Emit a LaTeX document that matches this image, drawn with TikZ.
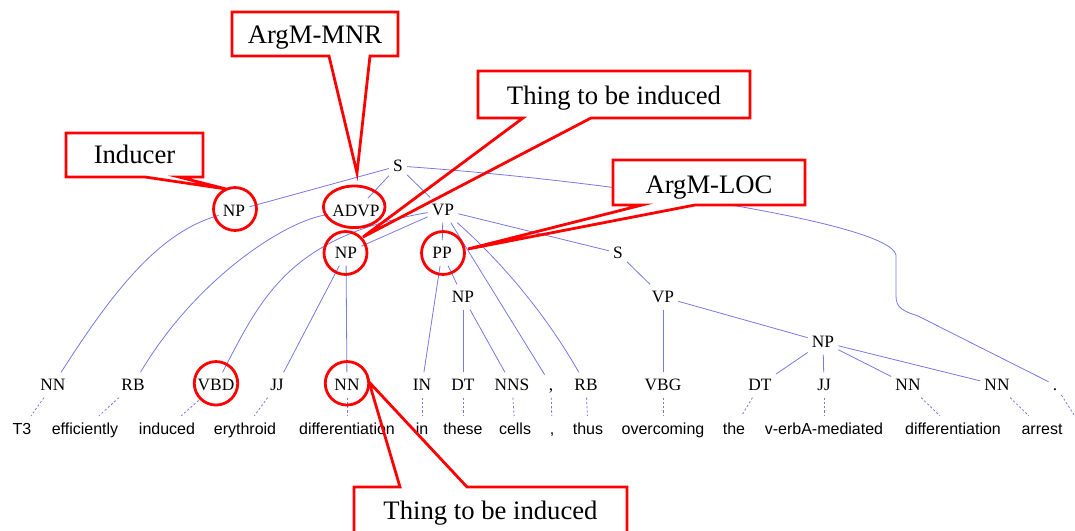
\documentclass[tikz,border=0pt]{standalone}
\usepackage{fontspec}
\setmainfont{Liberation Serif}
\newfontfamily\sansfam{Liberation Sans}
\newcommand\mytagfont{\rmfamily\fontsize{13}{15}\selectfont}
\newcommand\mywordfont{\sansfam\fontsize{12}{14}\selectfont}
\newcommand\mycallfont{\rmfamily\fontsize{20}{24}\selectfont}
\definecolor{treeblue}{RGB}{120,120,230}
\begin{document}
\begin{tikzpicture}[x=0.75pt,y=-0.75pt,
  tagn/.style={font=\mytagfont, text height=8.6pt, text depth=0pt, inner ysep=5pt, inner xsep=3pt},
  wordn/.style={font=\mywordfont, text height=8.6pt, text depth=0pt, inner ysep=5pt, inner xsep=2pt},
  brline/.style={draw=treeblue, line width=0.6pt},
  leafline/.style={draw=treeblue, line width=0.6pt, dash pattern=on 1.6pt off 1.6pt},
  redring/.style={draw=red, line width=2.1pt},
  callshape/.style={draw=red, line width=2.1pt, line join=miter},
  calltext/.style={font=\mycallfont, text height=13.2pt, text depth=0pt, inner sep=0pt},
]
\useasboundingbox (0,0) rectangle (1075,531);
\clip (0,0) rectangle (1075,531);

% phrase nodes
\node[tagn] (S)   at (398,166) {S};
\node[tagn] (npA) at (234,211) {NP};
\node[tagn] (advp) at (356,211) {ADVP};
\node[tagn] (vpA) at (443,210) {VP};
\node[tagn] (npB) at (346,253) {NP};
\node[tagn] (pp)  at (442,253) {PP};
\node[tagn] (npC) at (463,297) {NP};
\node[tagn] (sB)  at (618,253) {S};
\node[tagn] (vpB) at (663,297) {VP};
\node[tagn] (npD) at (823,342) {NP};

% POS tags
\node[tagn] (t1)  at (53,385)  {NN};
\node[tagn] (t2)  at (133,385) {RB};
\node[tagn] (t3)  at (216,385) {VBD};
\node[tagn] (t4)  at (277,385) {JJ};
\node[tagn] (t5)  at (347,385) {NN};
\node[tagn] (t6)  at (422,385) {IN};
\node[tagn] (t7)  at (463,385) {DT};
\node[tagn] (t8)  at (512,385) {NNS};
\node[tagn] (t9)  at (551,385) {,};
\node[tagn] (t10) at (586,385) {RB};
\node[tagn] (t11) at (663,385) {VBG};
\node[tagn] (t12) at (760,385) {DT};
\node[tagn] (t13) at (824,385) {JJ};
\node[tagn] (t14) at (908,385) {NN};
\node[tagn] (t15) at (997,385) {NN};
\node[tagn] (t16) at (1055,385) {.};

% words
\node[wordn] (w1)  at (22,428.5)  {T3};
\node[wordn] (w2)  at (85,428.5)  {efficiently};
\node[wordn] (w3)  at (167,428.5) {induced};
\node[wordn] (w4)  at (245,428.5) {erythroid};
\node[wordn] (w5)  at (347,428.5) {differentiation};
\node[wordn] (w6)  at (422,428.5) {in};
\node[wordn] (w7)  at (463,428.5) {these};
\node[wordn] (w8)  at (515,428.5) {cells};
\node[wordn] (w9)  at (552,428.5) {,};
\node[wordn] (w10) at (588,428.5) {thus};
\node[wordn] (w11) at (663,428.5) {overcoming};
\node[wordn] (w12) at (734,428.5) {the};
\node[wordn] (w13) at (824,428.5) {v-erbA-mediated};
\node[wordn] (w14) at (953,428.5) {differentiation};
\node[wordn] (w15) at (1042,428.5) {arrest};
\coordinate (w16) at (1083,429);

% tree branches
\draw[brline] (S) -- (npA);
\draw[brline] (S) -- (advp);
\draw[brline] (S) -- (vpA);
\draw[brline] (S) .. controls (600,180) and (890,222) .. (896,255) -- (896,296)
   .. controls (896,308) and (903,311) .. (918,316) -- (t16);
\draw[brline] (npA) .. controls (160,232) and (115,288) .. (t1);
\draw[brline] (advp) .. controls (285,220) and (195,280) .. (t2);
\draw[brline] (vpA) .. controls (290,236) and (262,296) .. (t3);
\draw[brline] (vpA) -- (npB);
\draw[brline] (vpA) -- (pp);
\draw[brline] (vpA) -- (sB);
\draw[brline] (vpA) -- (t9);
\draw[brline] (vpA) .. controls (505,265) and (548,318) .. (t10);
\draw[brline] (npB) -- (t4);
\draw[brline] (npB) -- (t5);
\draw[brline] (pp) -- (t6);
\draw[brline] (pp) -- (npC);
\draw[brline] (npC) -- (t7);
\draw[brline] (npC) -- (t8);
\draw[brline] (sB) -- (vpB);
\draw[brline] (vpB) -- (t11);
\draw[brline] (vpB) -- (npD);
\draw[brline] (npD) -- (t12);
\draw[brline] (npD) -- (t13);
\draw[brline] (npD) -- (t14);
\draw[brline] (npD) -- (t15);

% tag to word
\foreach \i in {1,...,16} { \draw[leafline] (t\i) -- (w\i); }

% red rings
\draw[redring] (235,209) circle[radius=16.1pt];
\draw[redring] (354.2,206.8) ellipse[x radius=23.1pt, y radius=15.6pt];
\draw[redring] (345.5,253) circle[radius=16.1pt];
\draw[redring] (443,253) circle[radius=16.1pt];
\draw[redring] (216,383.3) circle[radius=16.3pt];
\draw[redring] (347,383.3) circle[radius=16.3pt];

% callouts
\fill[white] (66,133) rectangle (203,177);
\draw[callshape] (66,133) -- (203,133) -- (203,177) -- (179,177) -- (226,189) -- (145,177) -- (66,177) -- cycle;
\node[calltext] (cInducer) at (134.5,155) {Inducer};

\fill[white] (232,12) rectangle (398,56);
\draw[callshape] (232,12) -- (398,12) -- (398,56) -- (370,56) -- (357,173) -- (329,56) -- (232,56) -- cycle;
\node[calltext] (cMNR) at (315,35) {ArgM-MNR};

\fill[white] (478,71) rectangle (750,118);
\draw[callshape] (478,71) -- (750,71) -- (750,118) -- (591,118) -- (363,237) -- (523,118) -- (478,118) -- cycle;
\node[calltext] (cThingA) at (614,96) {Thing to be induced};

\fill[white] (613,160) rectangle (805,205);
\draw[callshape] (613,160) -- (805,160) -- (805,205) -- (695,205) -- (468,249) -- (642,205) -- (613,205) -- cycle;
\node[calltext] (cLOC) at (709,184.5) {ArgM-LOC};

\fill[white] (354,487) rectangle (627,560);
\draw[callshape] (354,487) -- (400,487) -- (369,382) -- (467,487) -- (627,487) -- (627,560) -- (354,560) -- cycle;
\node[calltext] (cThingB) at (490.5,511) {Thing to be induced};
\end{tikzpicture}
\end{document}
